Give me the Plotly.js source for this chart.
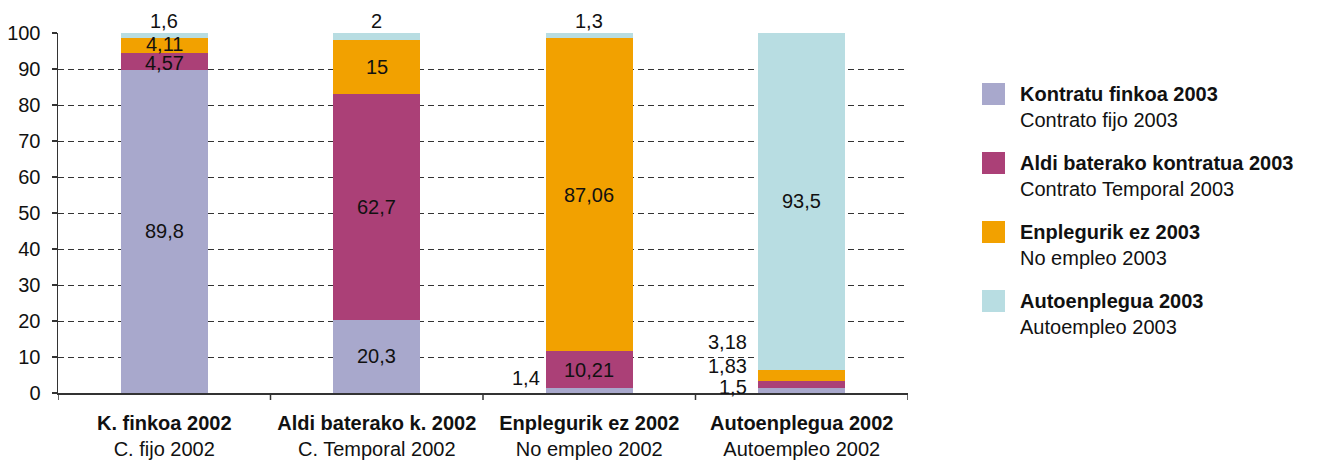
<!DOCTYPE html>
<html>
<head>
<meta charset="utf-8">
<script src="https://cdn.plot.ly/plotly-3.0.1.min.js"></script>
<style>html,body{margin:0;padding:0;background:#fff;}</style>
</head>
<body>
<div id="chart" style="width:1326px;height:461px;"></div>
<script>
// ---- data ----
const categoriesEu = ['K. finkoa 2002', 'Aldi baterako k. 2002', 'Enplegurik ez 2002', 'Autoenplegua 2002'];
const categoriesEs = ['C. fijo 2002', 'C. Temporal 2002', 'No empleo 2002', 'Autoempleo 2002'];
const seriesEu = ['Kontratu finkoa 2003', 'Aldi baterako kontratua 2003', 'Enplegurik ez 2003', 'Autoenplegua 2003'];
const seriesEs = ['Contrato fijo 2003', 'Contrato Temporal 2003', 'No empleo 2003', 'Autoempleo 2003'];
const kontratuFinkoa = [89.8, 20.3, 1.4, 1.5];
const aldiBaterako = [4.57, 62.7, 10.21, 1.83];
const enplegurikEz = [4.11, 15, 87.06, 3.18];
const autoenplegua = [1.6, 2, 1.3, 93.5];
const yTickValues = [0, 10, 20, 30, 40, 50, 60, 70, 80, 90, 100];

// ---- style ----
const seriesValues = [kontratuFinkoa, aldiBaterako, enplegurikEz, autoenplegua];
const colors = ['#A8A8CC', '#AB4077', '#F2A100', '#B8DDE2'];
const FONT = 'Liberation Sans, Arial, Helvetica, sans-serif';
const FS = 20;
const BARW = 0.41;
const YMAX = 100;
// label placement per series (rows) and category (columns)
const labelPlace = [
  ['in', 'in', 'left', 'left'],
  ['in', 'in', 'in', 'left'],
  ['in', 'in', 'in', 'left'],
  ['top', 'top', 'top', 'in']
];
const inShift = {'1,0': -2, '2,0': 2};
const leftLift = {'0,2': 12, '0,3': 3, '1,3': 18, '2,3': 33};
const leftGap = {'2': 4, '3': 9};

const M = {l: 58, r: 418, t: 33, b: 68};
const W = 1326, H = 461;
const PW = W - M.l - M.r, PH = H - M.t - M.b;
const px = p => (p - M.l) / PW;
const py = p => (H - M.b - p) / PH;

const xIdx = categoriesEu.map((c, j) => j);
const fmt = v => String(v).replace('.', ',');

const traces = seriesValues.map((vals, i) => ({
  type: 'bar',
  x: xIdx,
  y: vals,
  width: BARW,
  name: seriesEu[i],
  marker: {color: colors[i], line: {width: 0}},
  showlegend: false,
  hoverinfo: 'none',
  cliponaxis: false
}));

const annotations = [];
categoriesEu.forEach((c, j) => {
  let base = 0;
  seriesValues.forEach((vals, i) => {
    const v = vals[j];
    const place = labelPlace[i][j];
    const a = {
      xref: 'x', yref: 'y', showarrow: false,
      text: fmt(v),
      font: {family: FONT, size: FS, color: '#111'}
    };
    if (place === 'in') {
      a.x = j; a.y = base + v / 2; a.xanchor = 'center'; a.yanchor = 'middle';
      a.yshift = inShift[i + ',' + j] || 0;
    } else if (place === 'top') {
      // annotations outside the axis range are hidden, so keep the anchor inside it
      a.x = j; a.y = Math.min(base + v, YMAX); a.xanchor = 'center'; a.yanchor = 'bottom'; a.yshift = -1;
    } else {
      a.x = j - BARW / 2; a.y = base + v / 2; a.xanchor = 'right'; a.yanchor = 'middle';
      a.xshift = -(leftGap[j] || 5);
      a.yshift = leftLift[i + ',' + j] || 0;
    }
    annotations.push(a);
    base += v;
  });
});

// manual legend
const shapes = [];
seriesEu.forEach((name, i) => {
  const top = 83 + 69 * i;
  shapes.push({
    type: 'rect', xref: 'paper', yref: 'paper',
    x0: px(982), x1: px(1005), y0: py(top), y1: py(top + 22),
    fillcolor: colors[i], line: {width: 0}
  });
  annotations.push({
    xref: 'paper', yref: 'paper', x: px(1018), y: py(top - 2),
    xanchor: 'left', yanchor: 'top', align: 'left', showarrow: false,
    text: '<b>' + name + '</b><br>' + seriesEs[i],
    font: {family: FONT, size: FS, color: '#111'}
  });
});

const layout = {
  width: W, height: H,
  margin: M,
  paper_bgcolor: '#fff', plot_bgcolor: '#fff',
  barmode: 'stack',
  showlegend: false,
  font: {family: FONT, size: FS, color: '#111'},
  xaxis: {
    type: 'linear',
    range: [-0.5, categoriesEu.length - 0.5],
    tickvals: xIdx,
    ticktext: categoriesEu.map((c, j) => '<b>' + c + '</b><br>' + categoriesEs[j]),
    showgrid: false, zeroline: false,
    showline: true, linecolor: '#333', linewidth: 1.5,
    ticks: '',
    ticklabelstandoff: 11,
    tickfont: {family: FONT, size: FS, color: '#111'},
    fixedrange: true
  },
  yaxis: {
    range: [0, YMAX],
    tickvals: yTickValues,
    ticktext: yTickValues.map(String),
    showgrid: true, gridcolor: '#333', gridwidth: 1, griddash: '6px,4px',
    zeroline: false,
    showline: true, linecolor: '#333', linewidth: 1.5,
    ticks: 'outside', ticklen: 5, tickcolor: '#333', tickwidth: 1.5,
    ticklabelstandoff: 7,
    tickfont: {family: FONT, size: FS, color: '#111'},
    fixedrange: true
  },
  annotations: annotations,
  shapes: shapes.concat(
    // category boundary tick marks on the x axis
    [0, 1, 2, 3, 4].map(k => ({
      type: 'line', xref: 'x', yref: 'paper',
      x0: k - 0.5, x1: k - 0.5, y0: 0, y1: -7 / PH,
      line: {color: '#333', width: 1.5}
    }))
  )
};

Plotly.newPlot('chart', traces, layout, {displayModeBar: false, staticPlot: true});
</script>
</body>
</html>
